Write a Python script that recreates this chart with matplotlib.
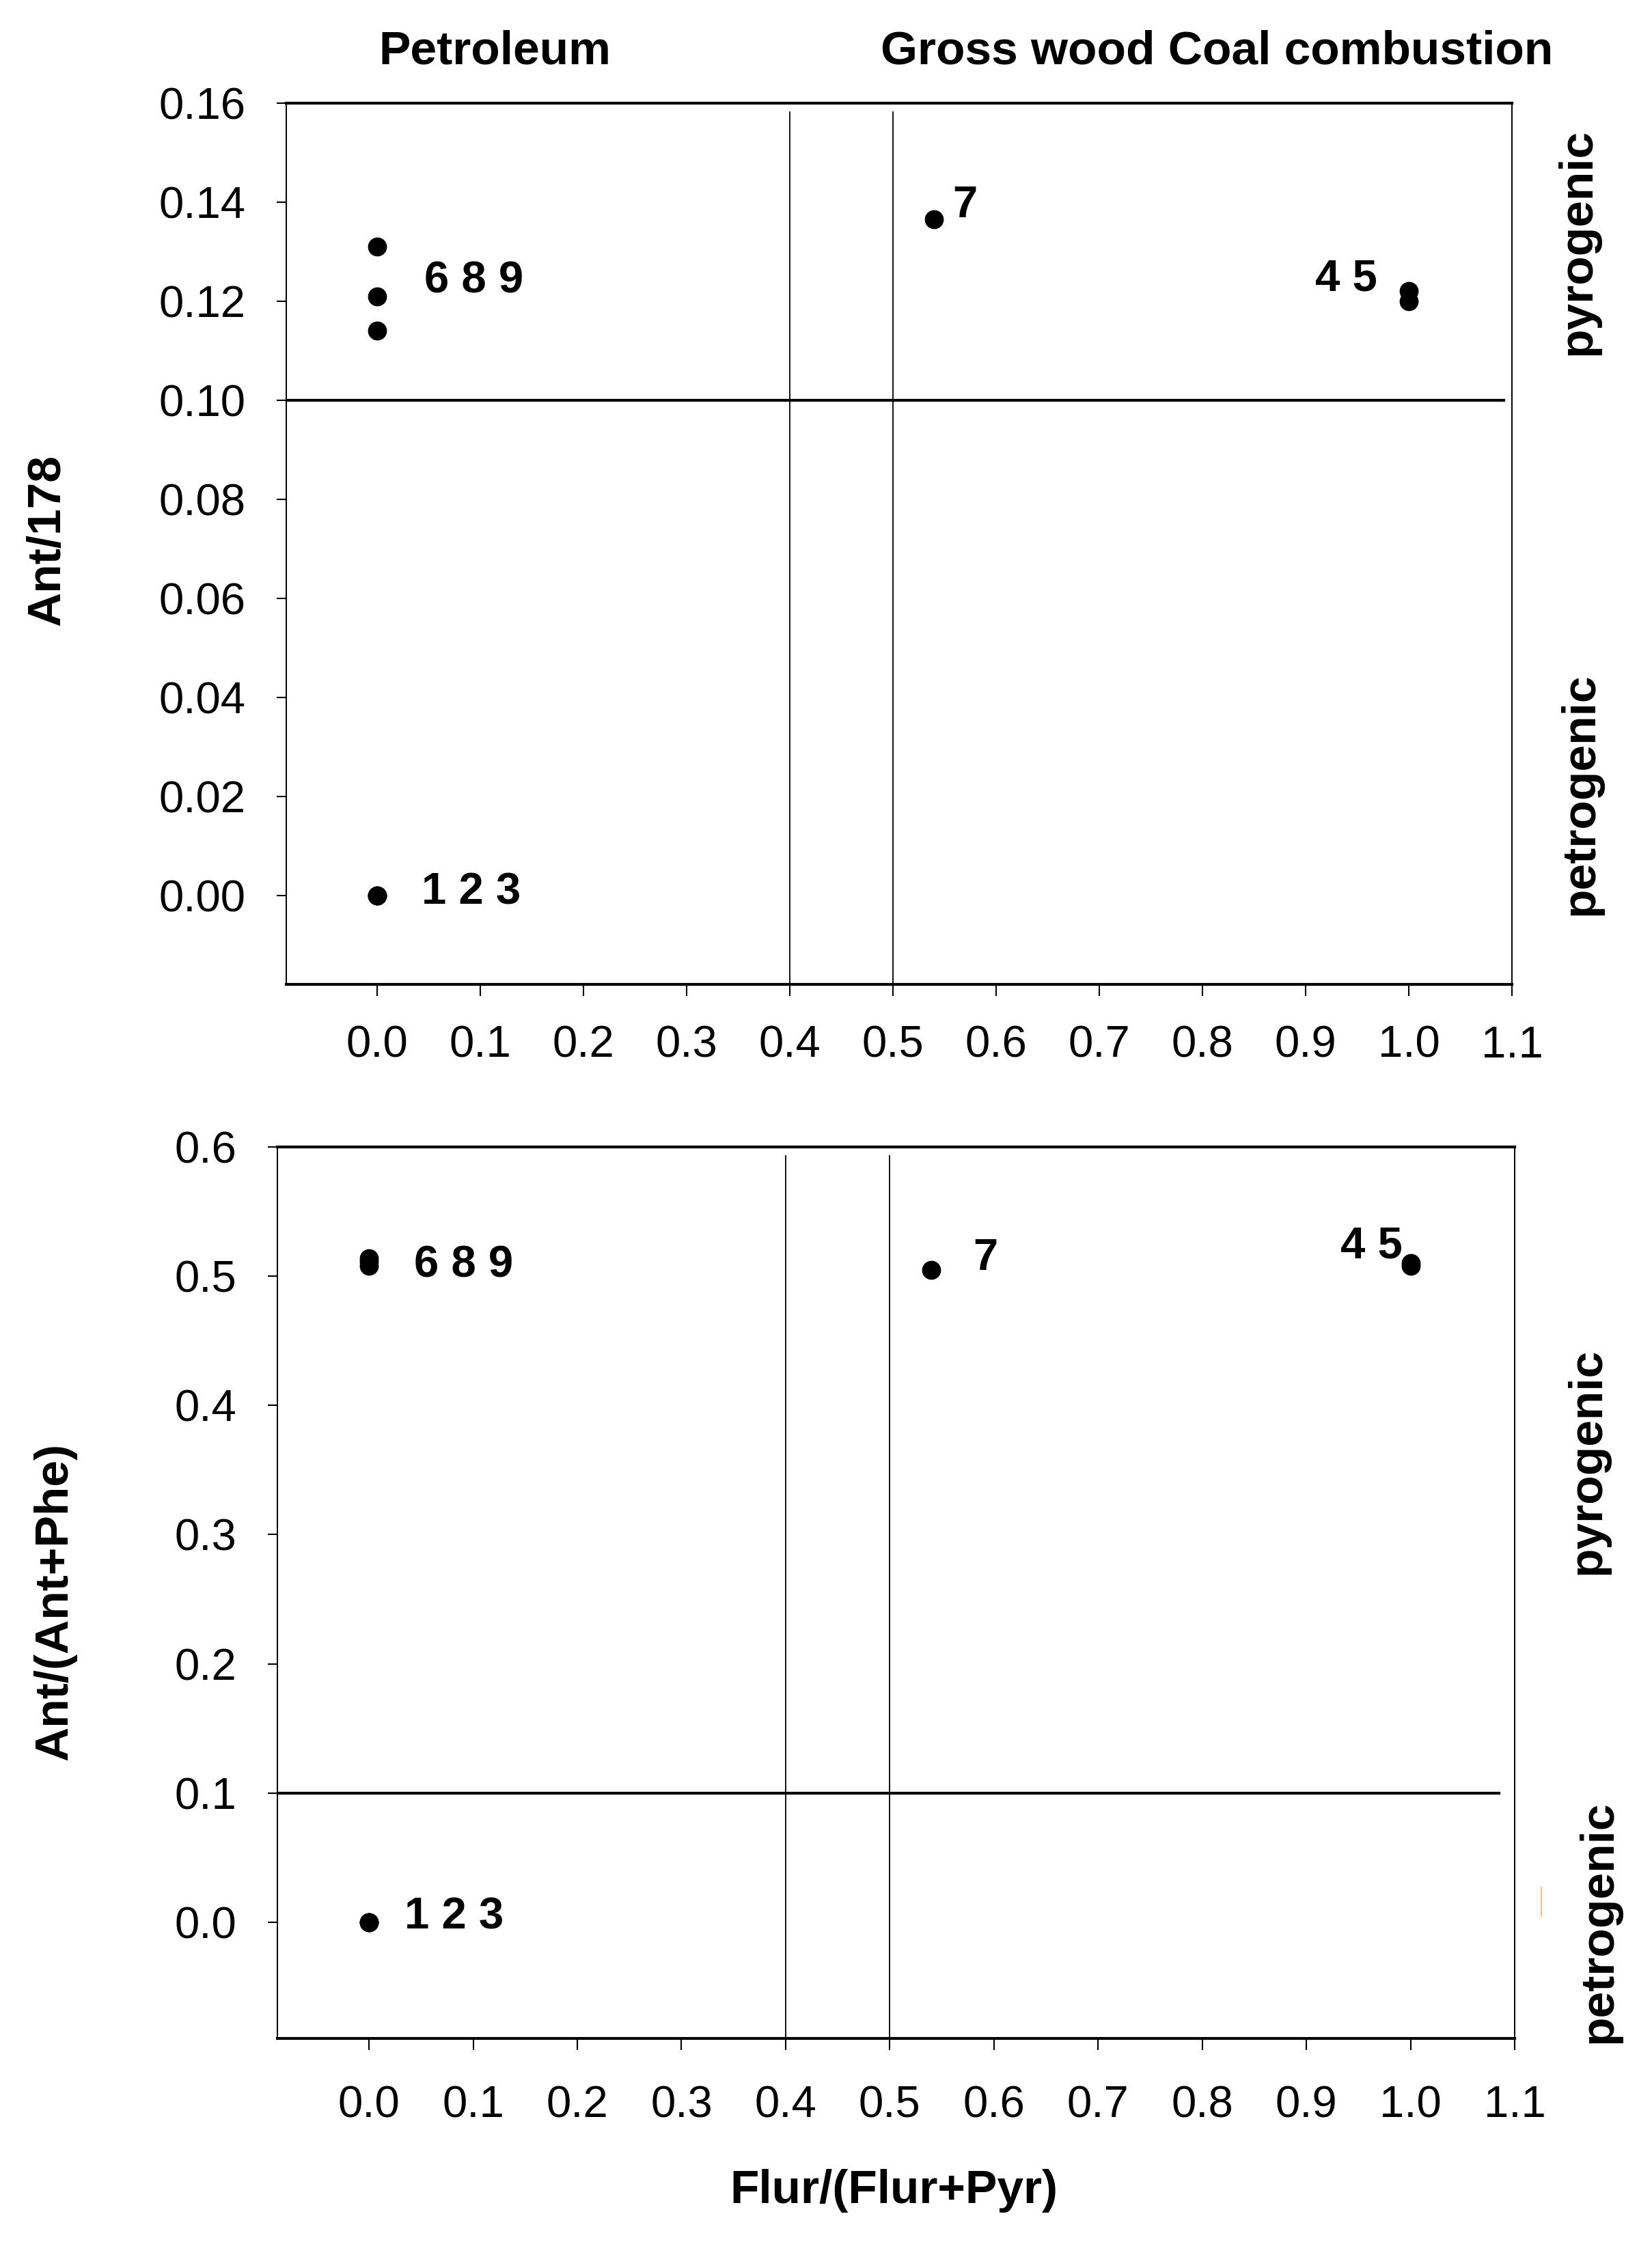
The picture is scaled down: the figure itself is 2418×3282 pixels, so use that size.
import matplotlib
matplotlib.use("Agg")
import matplotlib.pyplot as plt
from matplotlib.lines import Line2D

plt.rcParams['font.family'] = ['Liberation Sans', 'DejaVu Sans']

# ---- data ----
samples = ['1', '2', '3', '4', '5', '6', '7', '8', '9']
flur_ratio = [0.0, 0.0, 0.0, 1.0, 1.0, 0.0, 0.54, 0.0, 0.0]
ant_178 = [0.0, 0.0, 0.0, 0.122, 0.120, 0.131, 0.1365, 0.121, 0.114]
ant_phe = [0.0, 0.0, 0.0, 0.510, 0.508, 0.514, 0.505, 0.511, 0.508]

group_labels = ['1 2 3', '4 5', '6 8 9', '7']
top_label_x = [0.043, 0.909, 0.046, 0.558]
top_label_y = [0.0005, 0.1245, 0.124, 0.1393]
bot_label_x = [0.034, 0.933, 0.043, 0.580]
bot_label_y = [0.004, 0.523, 0.508, 0.514]

x_ticks = [0.0, 0.1, 0.2, 0.3, 0.4, 0.5, 0.6, 0.7, 0.8, 0.9, 1.0, 1.1]
top_y_ticks = [0.00, 0.02, 0.04, 0.06, 0.08, 0.10, 0.12, 0.14, 0.16]
bot_y_ticks = [0.0, 0.1, 0.2, 0.3, 0.4, 0.5, 0.6]

x_thresholds = [0.4, 0.5]
y_threshold = 0.1

W, H = 2418, 3282
fig = plt.figure(figsize=(W / 100, H / 100), dpi=100)

def px_box(l, r, t, b):
    return [l / W, 1 - b / H, (r - l) / W, (b - t) / H]

ax1 = fig.add_axes(px_box(419, 2213, 151, 1441))
ax2 = fig.add_axes(px_box(406, 2217, 1679, 2984))

tick_fs = 47
lab_fs = 50
pt_fs = 47

def style(ax, yticks, yfmt, xlim, ylim, hline_end, ypad, xpad):
    ax.set_xlim(*xlim)
    ax.set_ylim(*ylim)
    ax.set_xticks(x_ticks)
    ax.set_xticklabels([f"{v:.1f}" for v in x_ticks], fontsize=tick_fs)
    ax.set_yticks(yticks)
    ax.set_yticklabels([yfmt.format(v) for v in yticks], fontsize=tick_fs)
    ax.tick_params(axis='x', direction='out', length=12, width=1.5, pad=xpad)
    ax.tick_params(axis='y', direction='out', length=10, width=1.5, pad=ypad)
    for s in ['top', 'bottom']:
        ax.spines[s].set_linewidth(3.0)
    for s in ['left', 'right']:
        ax.spines[s].set_linewidth(1.4)
    for xv in x_thresholds:
        ax.axvline(xv, ymin=0, ymax=0.99, color='black', lw=1.3)
    ax.plot([xlim[0], hline_end], [y_threshold, y_threshold], color='black', lw=3.0)

style(ax1, top_y_ticks, "{:.2f}", (-0.088, 1.1), (-0.018, 0.16), 1.092, 33, 31)
style(ax2, bot_y_ticks, "{:.1f}", (-0.088, 1.1), (-0.09, 0.6), 1.085, 33, 37)

ax1.plot(flur_ratio, ant_178, 'o', color='black', markersize=19, zorder=5)
ax2.plot(flur_ratio, ant_phe, 'o', color='black', markersize=19, zorder=5)

for t, x, y in zip(group_labels, top_label_x, top_label_y):
    ax1.text(x, y, t, fontsize=pt_fs, fontweight='bold', ha='left', va='center')
for t, x, y in zip(group_labels, bot_label_x, bot_label_y):
    ax2.text(x, y, t, fontsize=pt_fs, fontweight='bold', ha='left', va='center')

# axis labels
fig.text(69 / W, 1 - 791 / H, 'Ant/178', rotation=90, fontsize=lab_fs,
         fontweight='bold', ha='center', va='center')
fig.text(80 / W, 1 - 2344 / H, 'Ant/(Ant+Phe)', rotation=90, fontsize=lab_fs,
         fontweight='bold', ha='center', va='center')
fig.text(1308 / W, 1 - 3207 / H, 'Flur/(Flur+Pyr)', fontsize=lab_fs,
         fontweight='bold', ha='center', va='center')

# region headers
fig.text(724 / W, 1 - 75 / H, 'Petroleum', fontsize=lab_fs,
         fontweight='bold', ha='center', va='center')
fig.text(1781 / W, 1 - 75 / H, 'Gross wood Coal combustion', fontsize=lab_fs,
         fontweight='bold', ha='center', va='center')

# right side annotations
fig.text(2309 / W, 1 - 354 / H, 'pyrogenic', rotation=90, fontsize=lab_fs,
         fontweight='bold', ha='center', va='center')
fig.text(2313 / W, 1 - 1162 / H, 'petrogenic', rotation=90, fontsize=lab_fs,
         fontweight='bold', ha='center', va='center')
fig.text(2323 / W, 1 - 2139 / H, 'pyrogenic', rotation=90, fontsize=lab_fs,
         fontweight='bold', ha='center', va='center')
fig.text(2340 / W, 1 - 2813 / H, 'petrogenic', rotation=90, fontsize=lab_fs,
         fontweight='bold', ha='center', va='center')

# small stray mark
fig.add_artist(Line2D([2256 / W, 2256 / W], [1 - 2763 / H, 1 - 2805 / H],
                      color='#f2c48a', lw=1.5))

fig.savefig('out.png', dpi=100)
